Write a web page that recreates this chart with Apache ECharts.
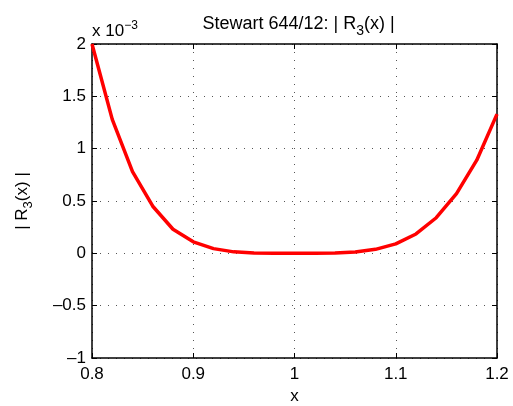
<!DOCTYPE html>
<html>
<head>
<meta charset="utf-8">
<script src="https://cdn.jsdelivr.net/npm/echarts@6/dist/echarts.min.js"></script>
<style>html,body{margin:0;padding:0;background:#fff}#c{width:513px;height:406px}</style>
</head>
<body>
<div id="c"></div>
<script>
const xValues = [0.80,0.82,0.84,0.86,0.88,0.90,0.92,0.94,0.96,0.98,1.00,1.02,1.04,1.06,1.08,1.10,1.12,1.14,1.16,1.18,1.20];
const rValues = [2.0e-3,1.28e-3,0.78e-3,0.45e-3,0.23e-3,0.11e-3,0.045e-3,0.014e-3,0.003e-3,0.0002e-3,0,0.0002e-3,0.0025e-3,0.012e-3,0.038e-3,0.09e-3,0.185e-3,0.34e-3,0.57e-3,0.89e-3,1.33e-3];
const xTicks = ['0.8','0.9','1','1.1','1.2'];
const yTicks = ['–1','–0.5','0','0.5','1','1.5','2'];

const FONT = 'Liberation Sans';
const chart = echarts.init(document.getElementById('c'));
const tickStyle = {show:true, inside:true, length:5, lineStyle:{color:'#000', width:1}};
const lineStyle = {show:true, onZero:false, lineStyle:{color:'#000', width:1.5}};
const grid = {show:true, lineStyle:{color:'#555', type:[1,7], width:1}};
chart.setOption({
  animation:false,
  backgroundColor:'#fff',
  grid:{left:92, right:16, top:44, bottom:48, containLabel:false, outerBoundsMode:'none'},
  title:{
    text:'{t|Stewart 644/12: | R}{s|3}{t|(x) |}',
    left:293.5, textAlign:'center', top:5,
    textStyle:{rich:{
      t:{fontFamily:FONT, fontSize:18, fontWeight:'normal', color:'#000'},
      s:{fontFamily:FONT, fontSize:14, fontWeight:'normal', color:'#000', padding:[14,0,0,0]}
    }}
  },
  graphic:[{
    type:'text', left:92, top:20,
    style:{
      text:'{t|x 10}{s|−3}',
      rich:{
        t:{fontFamily:FONT, fontSize:17, fill:'#000'},
        s:{fontFamily:FONT, fontSize:12, fill:'#000', padding:[0,0,10,0]}
      }
    }
  }],
  xAxis:[{
    type:'value', min:0.8, max:1.2, interval:0.1, position:'bottom',
    axisLine:lineStyle, axisTick:tickStyle, splitLine:grid,
    axisLabel:{fontFamily:FONT, fontSize:17, color:'#000', margin:8,
      formatter:(v)=>xTicks[Math.round((v-0.8)/0.1)]},
    name:'x', nameLocation:'middle', nameGap:30,
    nameTextStyle:{fontFamily:FONT, fontSize:17, color:'#000'}
  },{
    type:'value', min:0.8, max:1.2, interval:0.1, position:'top',
    axisLine:lineStyle, axisTick:tickStyle, splitLine:{show:false}, axisLabel:{show:false}
  }],
  yAxis:[{
    type:'value', min:-0.001, max:0.002, interval:0.0005, position:'left',
    axisLine:lineStyle, axisTick:tickStyle, splitLine:grid,
    axisLabel:{fontFamily:FONT, fontSize:17, color:'#000', margin:6,
      formatter:(v)=>yTicks[Math.round((v+0.001)/0.0005)]},
    name:'{t|| R}{s|3}{t|(x) |}', nameLocation:'middle', nameGap:57, nameRotate:90,
    nameTextStyle:{rich:{
      t:{fontFamily:FONT, fontSize:17, color:'#000'},
      s:{fontFamily:FONT, fontSize:13, color:'#000', padding:[12,0,0,0]}
    }}
  },{
    type:'value', min:-0.001, max:0.002, interval:0.0005, position:'right',
    axisLine:lineStyle, axisTick:tickStyle, splitLine:{show:false}, axisLabel:{show:false}
  }],
  series:[{
    type:'line', xAxisIndex:0, yAxisIndex:0,
    data:xValues.map((x,i)=>[x, rValues[i]]),
    showSymbol:false, symbol:'none', clip:false,
    lineStyle:{color:'#ff0000', width:3.5}
  }]
});
</script>
</body>
</html>
